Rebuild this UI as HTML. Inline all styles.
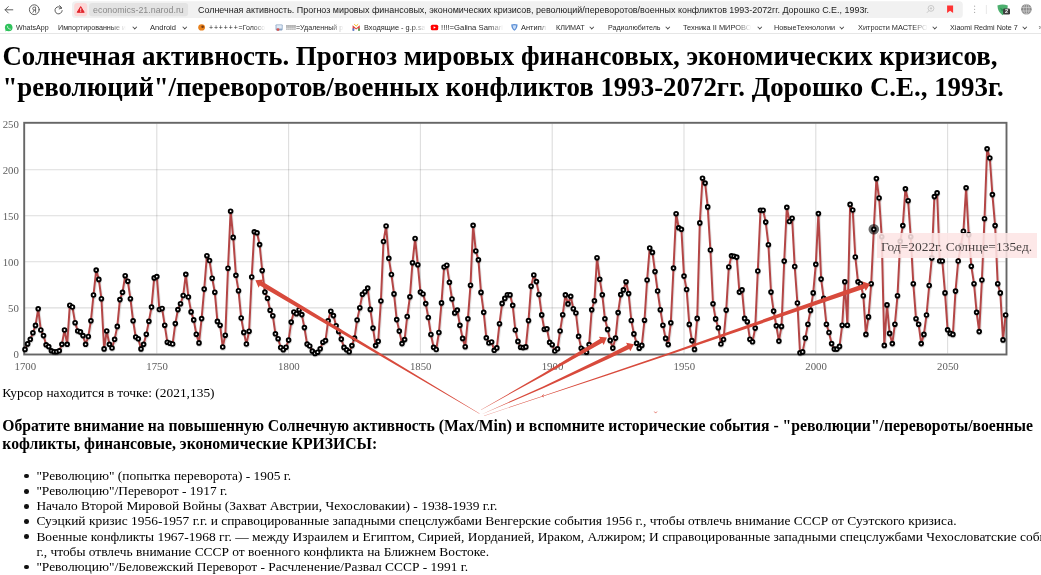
<!DOCTYPE html>
<html lang="ru">
<head>
<meta charset="utf-8">
<title>Солнечная активность</title>
<style>
html,body{margin:0;padding:0;background:#fff;}
body{width:1041px;height:575px;overflow:hidden;position:relative;font-family:"Liberation Serif",serif;color:#000;font-size:13.43px;line-height:15.17px;}
#chrome{position:absolute;left:0;top:0;width:1041px;height:34px;background:#fff;font-family:"Liberation Sans",sans-serif;overflow:hidden;}
#nav{position:absolute;left:0;top:0;}
#dom{position:absolute;left:93.0px;top:3.7px;height:13.4px;color:#8a8a8a;font-size:9.0px;line-height:13.4px;white-space:nowrap;transform-origin:0 50%;transform:scaleX(0.9863);}
#ttl{position:absolute;left:198.3px;top:3.7px;height:13.4px;color:#1a1a1a;font-size:8.9px;line-height:13.4px;white-space:nowrap;transform-origin:0 50%;transform:scaleX(1.0065);}
#bm{position:absolute;left:0;top:21px;width:1041px;height:13px;font-size:7.3px;line-height:13px;color:#2a2a2a;white-space:nowrap;}
#bm span{position:absolute;top:0;transform-origin:0 50%;}
#bm span.fade{-webkit-mask-image:linear-gradient(90deg,#000 0,#000 78%,transparent 100%);mask-image:linear-gradient(90deg,#000 0,#000 78%,transparent 100%);}
#bm b{font-weight:normal;letter-spacing:0.9px;}
#bm i{position:absolute;top:4.4px;width:2.6px;height:2.6px;border-right:0.9px solid #444;border-bottom:0.9px solid #444;transform:rotate(45deg) scale(0.85);}
#sep{position:absolute;left:0;top:33.2px;width:1041px;height:0.8px;background:#e6e6e6;}
h1{position:absolute;left:2.4px;top:41.2px;margin:0;width:1038px;font-size:26.88px;line-height:30.8px;font-weight:bold;white-space:nowrap;}
#chart{position:absolute;left:0;top:100px;}
#tip{position:absolute;left:877.3px;top:233px;box-sizing:content-box;background:rgba(253,229,229,0.88);font-size:13.44px;line-height:15.17px;white-space:nowrap;color:rgba(0,0,0,0.74);padding:5.9px 5.2px 3.6px 3.6px;}
#arrows{position:absolute;left:0;top:0;pointer-events:none;}
#cur{position:absolute;left:2.3px;top:385.4px;white-space:nowrap;}
h3{position:absolute;left:2.3px;top:417.35px;margin:0;font-size:15.70px;line-height:17.3px;font-weight:bold;white-space:nowrap;}
ul{position:absolute;left:2.8px;top:467.9px;margin:0;padding:0 0 0 33.6px;list-style:none;white-space:nowrap;}
li{position:relative;}
li::before{content:"";position:absolute;left:-12.5px;top:5.8px;width:4.7px;height:4.7px;border-radius:50%;background:#111;}
</style>
</head>
<body>
<div id="chrome">
 <svg id="nav" width="1041" height="34" viewBox="0 0 1041 34">
  <rect x="72" y="1.2" width="890.8" height="16.9" rx="3.5" fill="#f1f1f1"/>
  <rect x="74.2" y="2.9" width="13" height="13.4" rx="3" fill="#fcd7d7"/>
  <rect x="89.1" y="2.9" width="99" height="13.4" rx="3" fill="#e3e3e3"/>
  <path d="M80.7 6.6 L84.2 12.3 H77.2 Z" fill="#e1242b" stroke="#e1242b" stroke-width="1.0" stroke-linejoin="round"/>
  <path d="M80.7 8.3v2.3M80.7 11.3v0.8" stroke="#fff" stroke-width="0.9" fill="none"/>
  <g fill="none" stroke="#555" stroke-width="0.95" stroke-linecap="round" stroke-linejoin="round">
   <path d="M12.8 9.8H5.2M8.3 6.6L5.1 9.8L8.3 13"/>
   <circle cx="34.3" cy="9.7" r="4.9"/>
   <path d="M35.6 12.3V7.1H34.2a1.5 1.5 0 0 0 0 3H35.6M34.2 10.1L32.9 12.3" stroke-width="0.85"/>
   <path d="M61.6 8.3A3.6 3.6 0 1 0 62.2 10.6"/>
   <path d="M59.6 5.6L61.8 7.9L59.2 8.9"/>
  </g>
  <g fill="none" stroke="#c4c4c4" stroke-width="0.9">
   <circle cx="931" cy="8.4" r="2.9"/>
   <path d="M929 10.6L926.9 12.8M931 7.2v2.4M929.8 8.4h2.4"/>
  </g>
  <path d="M947.1 5.4h6v7.7l-3-2.4l-3 2.4z" fill="#ff3333"/>
  <g fill="#aaa"><circle cx="974.6" cy="6.2" r="0.6"/><circle cx="974.6" cy="9.3" r="0.6"/><circle cx="974.6" cy="12.4" r="0.6"/></g>
  <path d="M986.4 5V14" stroke="#e2e2e2" stroke-width="0.8"/>
  <path d="M997.4 5.6Q1002.6 3.2 1007.8 5.6Q1007.6 12.4 1002.6 15.2Q997.8 12.4 997.4 5.6Z" fill="#4caf6e"/>
  <path d="M1000 7.8l2 4l1.8-2.2z" fill="#2f8f55"/>
  <rect x="1003.1" y="8.4" width="6.9" height="6" rx="1.2" fill="#3c3c3c"/>
  <text x="1006.5" y="13.4" font-family="'Liberation Sans',sans-serif" font-size="5.6" font-weight="bold" fill="#fff" text-anchor="middle">2</text>
  <circle cx="1026.4" cy="9.2" r="5.3" fill="#8a8a8a"/>
  <g fill="none" stroke="#e6e6e6" stroke-width="0.55">
   <path d="M1021.3 7.4h10.2M1021.3 11h10.2M1026.4 4v10.4"/>
   <ellipse cx="1026.4" cy="9.2" rx="2.7" ry="5.2"/>
  </g>
  <!-- bookmark favicons -->
  <circle cx="8.7" cy="27.5" r="3.8" fill="#2fc25b"/>
  <path d="M5.2 31.4l0.8-2.4l1.6 1.2z" fill="#2fc25b"/>
  <path d="M7.3 25.7q-0.5 1.5 1 2.9q1.4 1.3 2.6 0.8l-0.7-0.9l-0.8 0.3q-1.3-0.8-1.6-2l0.5-0.5z" fill="#fff"/>
  <ellipse cx="201.6" cy="27.4" rx="3.4" ry="3.1" fill="#e8821e"/>
  <circle cx="202.6" cy="26.8" r="1.3" fill="#7a3b10"/>
  <rect x="275.6" y="24.4" width="7" height="6" rx="0.8" fill="#8aa4c4"/>
  <rect x="276.4" y="25.2" width="5.4" height="3.4" fill="#dfeaf6"/>
  <circle cx="278" cy="29.6" r="1.4" fill="#d9534f"/>
  <path d="M352.6 25.2l3.6 3l3.6-3v5.4h-1.6v-2.6l-2 1.6l-2-1.6v2.6h-1.6z" fill="#e0463c"/>
  <rect x="352.6" y="28.4" width="1.6" height="2.4" fill="#3f7fe0"/>
  <rect x="358.2" y="28.4" width="1.6" height="2.4" fill="#3aa757"/>
  <path d="M354.2 24.2l2 1.8l2-1.8" fill="none" stroke="#f4b400" stroke-width="0.9"/>
  <rect x="430.8" y="24.8" width="7.4" height="5.4" rx="1.5" fill="#f00"/>
  <path d="M433.6 26.2v2.6l2.2-1.3z" fill="#fff"/>
  <path d="M511.2 24.6q3.2-1.4 6.4 0q-0.2 4.4-3.2 6.2q-3-1.8-3.2-6.2z" fill="#5b8fd6"/>
  <path d="M512.6 25.6q1.8-0.8 3.6 0q-0.2 2.8-1.8 4q-1.6-1.2-1.8-4z" fill="#c9dcf5"/>
 </svg>
 <div id="dom">economics-21.narod.ru</div>
 <div id="ttl">Солнечная активность. Прогноз мировых финансовых, экономических кризисов, революций/переворотов/военных конфликтов 1993-2072гг. Дорошко С.Е., 1993г.</div>
 <div id="bm">
<span style="left:15.9px;transform:scaleX(0.9682)">WhatsApp</span>
<span class="fade" style="left:58.0px;transform:scaleX(0.9851)">Импортированные и</span>
<i style="left:133.1px"></i>
<span style="left:149.5px;transform:scaleX(1.0335)">Android</span>
<i style="left:182.6px"></i>
<span class="fade" style="left:208.8px;transform:scaleX(0.9561)"><b>++++++</b>=Голосо</span>
<span class="fade" style="left:285.8px;transform:scaleX(0.9767)">!!!!!=Удаленный р</span>
<span class="fade" style="left:363.8px;transform:scaleX(1.0120)">Входящие - g.p.sa</span>
<span class="fade" style="left:440.5px;transform:scaleX(1.0579)">!!!!=Galina Samari</span>
<span class="fade" style="left:520.5px;transform:scaleX(1.0191)">Антипл</span>
<span style="left:555.8px;transform:scaleX(0.9854)">КЛИМАТ</span>
<i style="left:590.1px"></i>
<span style="left:607.5px;transform:scaleX(0.9714)">Радиолюбитель</span>
<i style="left:665.6px"></i>
<span class="fade" style="left:683.0px;transform:scaleX(1.0188)">Техника II МИРОВО</span>
<i style="left:757.6px"></i>
<span style="left:773.8px;transform:scaleX(0.9992)">НовыеТехнологии</span>
<i style="left:839.9px"></i>
<span class="fade" style="left:858.3px;transform:scaleX(1.0099)">Хитрости МАСТЕРО</span>
<i style="left:932.8px"></i>
<span style="left:950.1px;transform:scaleX(0.9833)">Xiaomi Redmi Note 7</span>
<i style="left:1022.7px"></i>
<span style="left:1038.5px;color:#666">»</span>
</div>
 <div id="sep"></div>
</div>
<h1>Солнечная активность. Прогноз мировых финансовых, экономических кризисов,<br>"революций"/переворотов/военных конфликтов 1993-2072гг. Дорошко С.Е., 1993г.</h1>
<svg id="chart" width="1041" height="280" viewBox="0 100 1041 280">
<g stroke="#545454" stroke-opacity="0.2" stroke-width="1.1" fill="none">
<path d="M156.8 123.6V353.6"/>
<path d="M288.6 123.6V353.6"/>
<path d="M420.4 123.6V353.6"/>
<path d="M552.2 123.6V353.6"/>
<path d="M684.0 123.6V353.6"/>
<path d="M815.8 123.6V353.6"/>
<path d="M947.6 123.6V353.6"/>
<path d="M25.0 307.9H1005.6"/>
<path d="M25.0 261.8H1005.6"/>
<path d="M25.0 215.8H1005.6"/>
<path d="M25.0 169.7H1005.6"/>
</g>
<rect x="24.2" y="122.8" width="982.3" height="231.7" fill="none" stroke="#666" stroke-width="1.9"/>
<g fill="none" stroke-linejoin="round">
<polyline points="25.0,349.4 27.6,343.9 30.3,339.3 32.9,332.8 35.5,325.4 38.2,308.8 40.8,330.0 43.5,335.6 46.1,344.8 48.7,346.6 51.4,350.8 54.0,351.7 56.6,351.7 59.3,350.8 61.9,344.3 64.5,330.0 67.2,344.3 69.8,305.2 72.4,307.0 75.1,322.7 77.7,331.0 80.4,331.9 83.0,335.6 85.6,344.3 88.3,336.5 90.9,320.8 93.5,295.0 96.2,270.1 98.8,279.4 101.4,298.7 104.1,348.9 106.7,331.0 109.4,344.3 112.0,348.0 114.6,339.3 117.3,326.4 119.9,299.6 122.5,292.3 125.2,275.7 127.8,281.2 130.4,298.7 133.1,320.8 135.7,337.0 138.3,338.8 141.0,348.9 143.6,344.3 146.3,334.2 148.9,321.3 151.5,307.0 154.2,277.9 156.8,276.6 159.4,309.5 162.1,308.5 164.7,325.2 167.3,342.2 170.0,343.3 172.6,344.0 175.3,323.6 177.9,309.6 180.5,303.7 183.2,295.5 185.8,274.3 188.4,297.0 191.1,311.9 193.7,319.9 196.3,334.2 199.0,342.9 201.6,318.6 204.2,289.1 206.9,255.7 209.5,260.5 212.2,278.2 214.8,292.2 217.4,321.4 220.1,325.2 222.7,347.0 225.3,335.2 228.0,268.2 230.6,211.2 233.2,237.4 235.9,275.3 238.5,290.7 241.2,318.0 243.8,332.4 246.4,344.0 249.1,331.2 251.7,277.0 254.3,231.8 257.0,232.8 259.6,244.6 262.2,270.6 264.9,292.1 267.5,298.2 270.1,310.2 272.8,315.7 275.4,333.8 278.1,338.7 280.7,347.5 283.3,349.7 286.0,347.2 288.6,340.1 291.2,322.1 293.9,312.0 296.5,313.7 299.1,309.7 301.8,314.6 304.4,327.6 307.1,344.1 309.7,346.0 312.3,351.1 315.0,353.4 317.6,352.2 320.2,348.8 322.9,342.2 325.5,340.6 328.1,320.8 330.8,311.2 333.4,315.6 336.1,325.7 338.7,331.4 341.3,339.1 344.0,347.4 346.6,349.8 349.2,351.8 351.9,345.6 354.5,338.1 357.1,320.0 359.8,307.7 362.4,294.3 365.0,291.7 367.7,288.1 370.3,309.4 373.0,328.1 375.6,345.6 378.2,341.3 380.9,301.0 383.5,241.5 386.1,226.0 388.8,258.3 391.4,274.5 394.0,293.9 396.7,319.6 399.3,331.1 402.0,343.6 404.6,339.6 407.2,316.5 409.9,296.8 412.5,262.7 415.1,238.5 417.8,264.7 420.4,292.1 423.0,294.0 425.7,303.6 428.3,317.5 430.9,334.5 433.6,347.3 436.2,349.5 438.9,332.5 441.5,302.9 444.1,267.0 446.8,265.2 449.4,282.3 452.0,299.0 454.7,312.9 457.3,310.1 459.9,325.3 462.6,338.4 465.2,346.7 467.9,318.8 470.5,285.2 473.1,225.3 475.8,251.0 478.4,259.8 481.0,292.4 483.7,312.3 486.3,337.8 488.9,343.0 491.6,342.0 494.2,350.3 496.8,347.9 499.5,323.7 502.1,303.4 504.8,298.4 507.4,294.7 510.0,294.9 512.7,305.3 515.3,330.0 517.9,341.4 520.6,347.2 523.2,347.6 525.8,346.9 528.5,320.6 531.1,286.2 533.8,275.0 536.4,281.6 539.0,294.5 541.7,314.9 544.3,329.3 546.9,328.8 549.6,342.3 552.2,344.7 554.8,351.0 557.5,348.8 560.1,331.0 562.7,314.7 565.4,294.9 568.0,303.9 570.7,296.3 573.3,308.7 575.9,313.0 578.6,336.3 581.2,348.2 583.8,350.1 586.5,352.2 589.1,344.6 591.7,309.8 594.4,300.8 597.0,257.7 599.7,279.2 602.3,294.8 604.9,318.8 607.6,329.4 610.2,340.4 612.8,348.1 615.5,338.1 618.1,312.6 620.7,294.6 623.4,289.9 626.0,281.7 628.6,293.6 631.3,320.5 633.9,333.9 636.6,343.2 639.2,348.2 641.8,345.4 644.5,320.2 647.1,280.0 649.7,248.0 652.4,252.4 655.0,271.6 657.6,291.0 660.3,309.7 662.9,325.2 665.6,338.4 668.2,344.6 670.8,322.8 673.5,268.1 676.1,213.7 678.7,227.8 681.4,229.3 684.0,276.1 686.6,289.5 689.3,324.4 691.9,340.6 694.5,349.4 697.2,318.4 699.8,222.9 702.5,178.2 705.1,183.1 707.7,206.9 710.4,250.0 713.0,303.8 715.6,318.9 718.3,327.7 720.9,344.0 723.5,339.5 726.2,310.1 728.8,267.0 731.5,255.8 734.1,256.2 736.7,257.1 739.4,292.1 742.0,289.9 744.6,318.4 747.3,321.7 749.9,339.2 752.5,341.8 755.2,328.1 757.8,271.0 760.5,210.2 763.1,210.2 765.7,222.1 768.4,244.7 771.0,292.1 773.6,311.1 776.3,325.8 778.9,341.1 781.5,326.4 784.2,261.1 786.8,207.3 789.4,221.5 792.1,218.2 794.7,266.5 797.4,303.0 800.0,352.8 802.6,351.9 805.3,338.1 807.9,324.2 810.5,310.4 813.2,292.9 815.8,264.3 818.4,213.6 821.1,279.1 823.7,298.4 826.4,324.2 829.0,332.5 831.6,343.6 834.3,349.1 836.9,349.1 839.5,346.4 842.2,325.2 844.8,281.8 847.4,325.2 850.1,204.4 852.7,210.0 855.3,257.0 858.0,281.8 860.6,283.7 863.3,295.7 865.9,334.4 868.5,316.9 871.2,283.7 873.8,229.3 876.4,178.6 879.1,198.0 881.7,236.7 884.3,345.4 887.0,304.9 889.6,333.4 892.3,343.6 894.9,324.2 897.5,295.7 900.2,241.3 902.8,225.6 905.4,188.8 908.1,200.7 910.7,236.7 913.3,283.7 916.0,318.7 918.6,324.2 921.2,343.6 923.9,334.4 926.5,315.0 929.2,285.5 931.8,257.9 934.4,196.6 937.1,192.9 939.7,261.0 942.3,261.0 945.0,292.9 947.6,329.8 950.2,333.4 952.9,334.4 955.5,291.1 958.2,261.0 960.8,245.9 963.4,231.2 966.1,187.8 968.7,234.8 971.3,266.2 974.0,283.7 976.6,312.3 979.2,331.6 981.9,280.0 984.5,218.7 987.1,148.8 989.8,158.0 992.4,194.6 995.1,225.6 997.7,283.7 1000.3,292.9 1003.0,339.9 1005.6,315.0" stroke="#000" stroke-opacity="0.1" stroke-width="2.5" transform="translate(0.8,1.2)"/>
<polyline points="25.0,349.4 27.6,343.9 30.3,339.3 32.9,332.8 35.5,325.4 38.2,308.8 40.8,330.0 43.5,335.6 46.1,344.8 48.7,346.6 51.4,350.8 54.0,351.7 56.6,351.7 59.3,350.8 61.9,344.3 64.5,330.0 67.2,344.3 69.8,305.2 72.4,307.0 75.1,322.7 77.7,331.0 80.4,331.9 83.0,335.6 85.6,344.3 88.3,336.5 90.9,320.8 93.5,295.0 96.2,270.1 98.8,279.4 101.4,298.7 104.1,348.9 106.7,331.0 109.4,344.3 112.0,348.0 114.6,339.3 117.3,326.4 119.9,299.6 122.5,292.3 125.2,275.7 127.8,281.2 130.4,298.7 133.1,320.8 135.7,337.0 138.3,338.8 141.0,348.9 143.6,344.3 146.3,334.2 148.9,321.3 151.5,307.0 154.2,277.9 156.8,276.6 159.4,309.5 162.1,308.5 164.7,325.2 167.3,342.2 170.0,343.3 172.6,344.0 175.3,323.6 177.9,309.6 180.5,303.7 183.2,295.5 185.8,274.3 188.4,297.0 191.1,311.9 193.7,319.9 196.3,334.2 199.0,342.9 201.6,318.6 204.2,289.1 206.9,255.7 209.5,260.5 212.2,278.2 214.8,292.2 217.4,321.4 220.1,325.2 222.7,347.0 225.3,335.2 228.0,268.2 230.6,211.2 233.2,237.4 235.9,275.3 238.5,290.7 241.2,318.0 243.8,332.4 246.4,344.0 249.1,331.2 251.7,277.0 254.3,231.8 257.0,232.8 259.6,244.6 262.2,270.6 264.9,292.1 267.5,298.2 270.1,310.2 272.8,315.7 275.4,333.8 278.1,338.7 280.7,347.5 283.3,349.7 286.0,347.2 288.6,340.1 291.2,322.1 293.9,312.0 296.5,313.7 299.1,309.7 301.8,314.6 304.4,327.6 307.1,344.1 309.7,346.0 312.3,351.1 315.0,353.4 317.6,352.2 320.2,348.8 322.9,342.2 325.5,340.6 328.1,320.8 330.8,311.2 333.4,315.6 336.1,325.7 338.7,331.4 341.3,339.1 344.0,347.4 346.6,349.8 349.2,351.8 351.9,345.6 354.5,338.1 357.1,320.0 359.8,307.7 362.4,294.3 365.0,291.7 367.7,288.1 370.3,309.4 373.0,328.1 375.6,345.6 378.2,341.3 380.9,301.0 383.5,241.5 386.1,226.0 388.8,258.3 391.4,274.5 394.0,293.9 396.7,319.6 399.3,331.1 402.0,343.6 404.6,339.6 407.2,316.5 409.9,296.8 412.5,262.7 415.1,238.5 417.8,264.7 420.4,292.1 423.0,294.0 425.7,303.6 428.3,317.5 430.9,334.5 433.6,347.3 436.2,349.5 438.9,332.5 441.5,302.9 444.1,267.0 446.8,265.2 449.4,282.3 452.0,299.0 454.7,312.9 457.3,310.1 459.9,325.3 462.6,338.4 465.2,346.7 467.9,318.8 470.5,285.2 473.1,225.3 475.8,251.0 478.4,259.8 481.0,292.4 483.7,312.3 486.3,337.8 488.9,343.0 491.6,342.0 494.2,350.3 496.8,347.9 499.5,323.7 502.1,303.4 504.8,298.4 507.4,294.7 510.0,294.9 512.7,305.3 515.3,330.0 517.9,341.4 520.6,347.2 523.2,347.6 525.8,346.9 528.5,320.6 531.1,286.2 533.8,275.0 536.4,281.6 539.0,294.5 541.7,314.9 544.3,329.3 546.9,328.8 549.6,342.3 552.2,344.7 554.8,351.0 557.5,348.8 560.1,331.0 562.7,314.7 565.4,294.9 568.0,303.9 570.7,296.3 573.3,308.7 575.9,313.0 578.6,336.3 581.2,348.2 583.8,350.1 586.5,352.2 589.1,344.6 591.7,309.8 594.4,300.8 597.0,257.7 599.7,279.2 602.3,294.8 604.9,318.8 607.6,329.4 610.2,340.4 612.8,348.1 615.5,338.1 618.1,312.6 620.7,294.6 623.4,289.9 626.0,281.7 628.6,293.6 631.3,320.5 633.9,333.9 636.6,343.2 639.2,348.2 641.8,345.4 644.5,320.2 647.1,280.0 649.7,248.0 652.4,252.4 655.0,271.6 657.6,291.0 660.3,309.7 662.9,325.2 665.6,338.4 668.2,344.6 670.8,322.8 673.5,268.1 676.1,213.7 678.7,227.8 681.4,229.3 684.0,276.1 686.6,289.5 689.3,324.4 691.9,340.6 694.5,349.4 697.2,318.4 699.8,222.9 702.5,178.2 705.1,183.1 707.7,206.9 710.4,250.0 713.0,303.8 715.6,318.9 718.3,327.7 720.9,344.0 723.5,339.5 726.2,310.1 728.8,267.0 731.5,255.8 734.1,256.2 736.7,257.1 739.4,292.1 742.0,289.9 744.6,318.4 747.3,321.7 749.9,339.2 752.5,341.8 755.2,328.1 757.8,271.0 760.5,210.2 763.1,210.2 765.7,222.1 768.4,244.7 771.0,292.1 773.6,311.1 776.3,325.8 778.9,341.1 781.5,326.4 784.2,261.1 786.8,207.3 789.4,221.5 792.1,218.2 794.7,266.5 797.4,303.0 800.0,352.8 802.6,351.9 805.3,338.1 807.9,324.2 810.5,310.4 813.2,292.9 815.8,264.3 818.4,213.6 821.1,279.1 823.7,298.4 826.4,324.2 829.0,332.5 831.6,343.6 834.3,349.1 836.9,349.1 839.5,346.4 842.2,325.2 844.8,281.8 847.4,325.2 850.1,204.4 852.7,210.0 855.3,257.0 858.0,281.8 860.6,283.7 863.3,295.7 865.9,334.4 868.5,316.9 871.2,283.7 873.8,229.3 876.4,178.6 879.1,198.0 881.7,236.7 884.3,345.4 887.0,304.9 889.6,333.4 892.3,343.6 894.9,324.2 897.5,295.7 900.2,241.3 902.8,225.6 905.4,188.8 908.1,200.7 910.7,236.7 913.3,283.7 916.0,318.7 918.6,324.2 921.2,343.6 923.9,334.4 926.5,315.0 929.2,285.5 931.8,257.9 934.4,196.6 937.1,192.9 939.7,261.0 942.3,261.0 945.0,292.9 947.6,329.8 950.2,333.4 952.9,334.4 955.5,291.1 958.2,261.0 960.8,245.9 963.4,231.2 966.1,187.8 968.7,234.8 971.3,266.2 974.0,283.7 976.6,312.3 979.2,331.6 981.9,280.0 984.5,218.7 987.1,148.8 989.8,158.0 992.4,194.6 995.1,225.6 997.7,283.7 1000.3,292.9 1003.0,339.9 1005.6,315.0" stroke="#b44646" stroke-width="2.0"/>
</g>
<g fill="none" stroke="#000" stroke-opacity="0.13" stroke-width="2.0">
<circle cx="25.3" cy="350.4" r="2.0"/>
<circle cx="27.9" cy="344.9" r="2.0"/>
<circle cx="30.6" cy="340.3" r="2.0"/>
<circle cx="33.2" cy="333.8" r="2.0"/>
<circle cx="35.8" cy="326.4" r="2.0"/>
<circle cx="38.5" cy="309.8" r="2.0"/>
<circle cx="41.1" cy="331.0" r="2.0"/>
<circle cx="43.8" cy="336.6" r="2.0"/>
<circle cx="46.4" cy="345.8" r="2.0"/>
<circle cx="49.0" cy="347.6" r="2.0"/>
<circle cx="51.7" cy="351.8" r="2.0"/>
<circle cx="54.3" cy="352.7" r="2.0"/>
<circle cx="56.9" cy="352.7" r="2.0"/>
<circle cx="59.6" cy="351.8" r="2.0"/>
<circle cx="62.2" cy="345.3" r="2.0"/>
<circle cx="64.8" cy="331.0" r="2.0"/>
<circle cx="67.5" cy="345.3" r="2.0"/>
<circle cx="70.1" cy="306.2" r="2.0"/>
<circle cx="72.7" cy="308.0" r="2.0"/>
<circle cx="75.4" cy="323.7" r="2.0"/>
<circle cx="78.0" cy="332.0" r="2.0"/>
<circle cx="80.7" cy="332.9" r="2.0"/>
<circle cx="83.3" cy="336.6" r="2.0"/>
<circle cx="85.9" cy="345.3" r="2.0"/>
<circle cx="88.6" cy="337.5" r="2.0"/>
<circle cx="91.2" cy="321.8" r="2.0"/>
<circle cx="93.8" cy="296.0" r="2.0"/>
<circle cx="96.5" cy="271.1" r="2.0"/>
<circle cx="99.1" cy="280.4" r="2.0"/>
<circle cx="101.7" cy="299.7" r="2.0"/>
<circle cx="104.4" cy="349.9" r="2.0"/>
<circle cx="107.0" cy="332.0" r="2.0"/>
<circle cx="109.7" cy="345.3" r="2.0"/>
<circle cx="112.3" cy="349.0" r="2.0"/>
<circle cx="114.9" cy="340.3" r="2.0"/>
<circle cx="117.6" cy="327.4" r="2.0"/>
<circle cx="120.2" cy="300.6" r="2.0"/>
<circle cx="122.8" cy="293.3" r="2.0"/>
<circle cx="125.5" cy="276.7" r="2.0"/>
<circle cx="128.1" cy="282.2" r="2.0"/>
<circle cx="130.7" cy="299.7" r="2.0"/>
<circle cx="133.4" cy="321.8" r="2.0"/>
<circle cx="136.0" cy="338.0" r="2.0"/>
<circle cx="138.6" cy="339.8" r="2.0"/>
<circle cx="141.3" cy="349.9" r="2.0"/>
<circle cx="143.9" cy="345.3" r="2.0"/>
<circle cx="146.6" cy="335.2" r="2.0"/>
<circle cx="149.2" cy="322.3" r="2.0"/>
<circle cx="151.8" cy="308.0" r="2.0"/>
<circle cx="154.5" cy="278.9" r="2.0"/>
<circle cx="157.1" cy="277.6" r="2.0"/>
<circle cx="159.7" cy="310.5" r="2.0"/>
<circle cx="162.4" cy="309.5" r="2.0"/>
<circle cx="165.0" cy="326.2" r="2.0"/>
<circle cx="167.6" cy="343.2" r="2.0"/>
<circle cx="170.3" cy="344.3" r="2.0"/>
<circle cx="172.9" cy="345.0" r="2.0"/>
<circle cx="175.6" cy="324.6" r="2.0"/>
<circle cx="178.2" cy="310.6" r="2.0"/>
<circle cx="180.8" cy="304.7" r="2.0"/>
<circle cx="183.5" cy="296.5" r="2.0"/>
<circle cx="186.1" cy="275.3" r="2.0"/>
<circle cx="188.7" cy="298.0" r="2.0"/>
<circle cx="191.4" cy="312.9" r="2.0"/>
<circle cx="194.0" cy="320.9" r="2.0"/>
<circle cx="196.6" cy="335.2" r="2.0"/>
<circle cx="199.3" cy="343.9" r="2.0"/>
<circle cx="201.9" cy="319.6" r="2.0"/>
<circle cx="204.5" cy="290.1" r="2.0"/>
<circle cx="207.2" cy="256.7" r="2.0"/>
<circle cx="209.8" cy="261.5" r="2.0"/>
<circle cx="212.5" cy="279.2" r="2.0"/>
<circle cx="215.1" cy="293.2" r="2.0"/>
<circle cx="217.7" cy="322.4" r="2.0"/>
<circle cx="220.4" cy="326.2" r="2.0"/>
<circle cx="223.0" cy="348.0" r="2.0"/>
<circle cx="225.6" cy="336.2" r="2.0"/>
<circle cx="228.3" cy="269.2" r="2.0"/>
<circle cx="230.9" cy="212.2" r="2.0"/>
<circle cx="233.5" cy="238.4" r="2.0"/>
<circle cx="236.2" cy="276.3" r="2.0"/>
<circle cx="238.8" cy="291.7" r="2.0"/>
<circle cx="241.5" cy="319.0" r="2.0"/>
<circle cx="244.1" cy="333.4" r="2.0"/>
<circle cx="246.7" cy="345.0" r="2.0"/>
<circle cx="249.4" cy="332.2" r="2.0"/>
<circle cx="252.0" cy="278.0" r="2.0"/>
<circle cx="254.6" cy="232.8" r="2.0"/>
<circle cx="257.3" cy="233.8" r="2.0"/>
<circle cx="259.9" cy="245.6" r="2.0"/>
<circle cx="262.5" cy="271.6" r="2.0"/>
<circle cx="265.2" cy="293.1" r="2.0"/>
<circle cx="267.8" cy="299.2" r="2.0"/>
<circle cx="270.4" cy="311.2" r="2.0"/>
<circle cx="273.1" cy="316.7" r="2.0"/>
<circle cx="275.7" cy="334.8" r="2.0"/>
<circle cx="278.4" cy="339.7" r="2.0"/>
<circle cx="281.0" cy="348.5" r="2.0"/>
<circle cx="283.6" cy="350.7" r="2.0"/>
<circle cx="286.3" cy="348.2" r="2.0"/>
<circle cx="288.9" cy="341.1" r="2.0"/>
<circle cx="291.5" cy="323.1" r="2.0"/>
<circle cx="294.2" cy="313.0" r="2.0"/>
<circle cx="296.8" cy="314.7" r="2.0"/>
<circle cx="299.4" cy="310.7" r="2.0"/>
<circle cx="302.1" cy="315.6" r="2.0"/>
<circle cx="304.7" cy="328.6" r="2.0"/>
<circle cx="307.4" cy="345.1" r="2.0"/>
<circle cx="310.0" cy="347.0" r="2.0"/>
<circle cx="312.6" cy="352.1" r="2.0"/>
<circle cx="315.3" cy="354.4" r="2.0"/>
<circle cx="317.9" cy="353.2" r="2.0"/>
<circle cx="320.5" cy="349.8" r="2.0"/>
<circle cx="323.2" cy="343.2" r="2.0"/>
<circle cx="325.8" cy="341.6" r="2.0"/>
<circle cx="328.4" cy="321.8" r="2.0"/>
<circle cx="331.1" cy="312.2" r="2.0"/>
<circle cx="333.7" cy="316.6" r="2.0"/>
<circle cx="336.4" cy="326.7" r="2.0"/>
<circle cx="339.0" cy="332.4" r="2.0"/>
<circle cx="341.6" cy="340.1" r="2.0"/>
<circle cx="344.3" cy="348.4" r="2.0"/>
<circle cx="346.9" cy="350.8" r="2.0"/>
<circle cx="349.5" cy="352.8" r="2.0"/>
<circle cx="352.2" cy="346.6" r="2.0"/>
<circle cx="354.8" cy="339.1" r="2.0"/>
<circle cx="357.4" cy="321.0" r="2.0"/>
<circle cx="360.1" cy="308.7" r="2.0"/>
<circle cx="362.7" cy="295.3" r="2.0"/>
<circle cx="365.3" cy="292.7" r="2.0"/>
<circle cx="368.0" cy="289.1" r="2.0"/>
<circle cx="370.6" cy="310.4" r="2.0"/>
<circle cx="373.3" cy="329.1" r="2.0"/>
<circle cx="375.9" cy="346.6" r="2.0"/>
<circle cx="378.5" cy="342.3" r="2.0"/>
<circle cx="381.2" cy="302.0" r="2.0"/>
<circle cx="383.8" cy="242.5" r="2.0"/>
<circle cx="386.4" cy="227.0" r="2.0"/>
<circle cx="389.1" cy="259.3" r="2.0"/>
<circle cx="391.7" cy="275.5" r="2.0"/>
<circle cx="394.3" cy="294.9" r="2.0"/>
<circle cx="397.0" cy="320.6" r="2.0"/>
<circle cx="399.6" cy="332.1" r="2.0"/>
<circle cx="402.3" cy="344.6" r="2.0"/>
<circle cx="404.9" cy="340.6" r="2.0"/>
<circle cx="407.5" cy="317.5" r="2.0"/>
<circle cx="410.2" cy="297.8" r="2.0"/>
<circle cx="412.8" cy="263.7" r="2.0"/>
<circle cx="415.4" cy="239.5" r="2.0"/>
<circle cx="418.1" cy="265.7" r="2.0"/>
<circle cx="420.7" cy="293.1" r="2.0"/>
<circle cx="423.3" cy="295.0" r="2.0"/>
<circle cx="426.0" cy="304.6" r="2.0"/>
<circle cx="428.6" cy="318.5" r="2.0"/>
<circle cx="431.2" cy="335.5" r="2.0"/>
<circle cx="433.9" cy="348.3" r="2.0"/>
<circle cx="436.5" cy="350.5" r="2.0"/>
<circle cx="439.2" cy="333.5" r="2.0"/>
<circle cx="441.8" cy="303.9" r="2.0"/>
<circle cx="444.4" cy="268.0" r="2.0"/>
<circle cx="447.1" cy="266.2" r="2.0"/>
<circle cx="449.7" cy="283.3" r="2.0"/>
<circle cx="452.3" cy="300.0" r="2.0"/>
<circle cx="455.0" cy="313.9" r="2.0"/>
<circle cx="457.6" cy="311.1" r="2.0"/>
<circle cx="460.2" cy="326.3" r="2.0"/>
<circle cx="462.9" cy="339.4" r="2.0"/>
<circle cx="465.5" cy="347.7" r="2.0"/>
<circle cx="468.2" cy="319.8" r="2.0"/>
<circle cx="470.8" cy="286.2" r="2.0"/>
<circle cx="473.4" cy="226.3" r="2.0"/>
<circle cx="476.1" cy="252.0" r="2.0"/>
<circle cx="478.7" cy="260.8" r="2.0"/>
<circle cx="481.3" cy="293.4" r="2.0"/>
<circle cx="484.0" cy="313.3" r="2.0"/>
<circle cx="486.6" cy="338.8" r="2.0"/>
<circle cx="489.2" cy="344.0" r="2.0"/>
<circle cx="491.9" cy="343.0" r="2.0"/>
<circle cx="494.5" cy="351.3" r="2.0"/>
<circle cx="497.1" cy="348.9" r="2.0"/>
<circle cx="499.8" cy="324.7" r="2.0"/>
<circle cx="502.4" cy="304.4" r="2.0"/>
<circle cx="505.1" cy="299.4" r="2.0"/>
<circle cx="507.7" cy="295.7" r="2.0"/>
<circle cx="510.3" cy="295.9" r="2.0"/>
<circle cx="513.0" cy="306.3" r="2.0"/>
<circle cx="515.6" cy="331.0" r="2.0"/>
<circle cx="518.2" cy="342.4" r="2.0"/>
<circle cx="520.9" cy="348.2" r="2.0"/>
<circle cx="523.5" cy="348.6" r="2.0"/>
<circle cx="526.1" cy="347.9" r="2.0"/>
<circle cx="528.8" cy="321.6" r="2.0"/>
<circle cx="531.4" cy="287.2" r="2.0"/>
<circle cx="534.1" cy="276.0" r="2.0"/>
<circle cx="536.7" cy="282.6" r="2.0"/>
<circle cx="539.3" cy="295.5" r="2.0"/>
<circle cx="542.0" cy="315.9" r="2.0"/>
<circle cx="544.6" cy="330.3" r="2.0"/>
<circle cx="547.2" cy="329.8" r="2.0"/>
<circle cx="549.9" cy="343.3" r="2.0"/>
<circle cx="552.5" cy="345.7" r="2.0"/>
<circle cx="555.1" cy="352.0" r="2.0"/>
<circle cx="557.8" cy="349.8" r="2.0"/>
<circle cx="560.4" cy="332.0" r="2.0"/>
<circle cx="563.0" cy="315.7" r="2.0"/>
<circle cx="565.7" cy="295.9" r="2.0"/>
<circle cx="568.3" cy="304.9" r="2.0"/>
<circle cx="571.0" cy="297.3" r="2.0"/>
<circle cx="573.6" cy="309.7" r="2.0"/>
<circle cx="576.2" cy="314.0" r="2.0"/>
<circle cx="578.9" cy="337.3" r="2.0"/>
<circle cx="581.5" cy="349.2" r="2.0"/>
<circle cx="584.1" cy="351.1" r="2.0"/>
<circle cx="586.8" cy="353.2" r="2.0"/>
<circle cx="589.4" cy="345.6" r="2.0"/>
<circle cx="592.0" cy="310.8" r="2.0"/>
<circle cx="594.7" cy="301.8" r="2.0"/>
<circle cx="597.3" cy="258.7" r="2.0"/>
<circle cx="600.0" cy="280.2" r="2.0"/>
<circle cx="602.6" cy="295.8" r="2.0"/>
<circle cx="605.2" cy="319.8" r="2.0"/>
<circle cx="607.9" cy="330.4" r="2.0"/>
<circle cx="610.5" cy="341.4" r="2.0"/>
<circle cx="613.1" cy="349.1" r="2.0"/>
<circle cx="615.8" cy="339.1" r="2.0"/>
<circle cx="618.4" cy="313.6" r="2.0"/>
<circle cx="621.0" cy="295.6" r="2.0"/>
<circle cx="623.7" cy="290.9" r="2.0"/>
<circle cx="626.3" cy="282.7" r="2.0"/>
<circle cx="628.9" cy="294.6" r="2.0"/>
<circle cx="631.6" cy="321.5" r="2.0"/>
<circle cx="634.2" cy="334.9" r="2.0"/>
<circle cx="636.9" cy="344.2" r="2.0"/>
<circle cx="639.5" cy="349.2" r="2.0"/>
<circle cx="642.1" cy="346.4" r="2.0"/>
<circle cx="644.8" cy="321.2" r="2.0"/>
<circle cx="647.4" cy="281.0" r="2.0"/>
<circle cx="650.0" cy="249.0" r="2.0"/>
<circle cx="652.7" cy="253.4" r="2.0"/>
<circle cx="655.3" cy="272.6" r="2.0"/>
<circle cx="657.9" cy="292.0" r="2.0"/>
<circle cx="660.6" cy="310.7" r="2.0"/>
<circle cx="663.2" cy="326.2" r="2.0"/>
<circle cx="665.9" cy="339.4" r="2.0"/>
<circle cx="668.5" cy="345.6" r="2.0"/>
<circle cx="671.1" cy="323.8" r="2.0"/>
<circle cx="673.8" cy="269.1" r="2.0"/>
<circle cx="676.4" cy="214.7" r="2.0"/>
<circle cx="679.0" cy="228.8" r="2.0"/>
<circle cx="681.7" cy="230.3" r="2.0"/>
<circle cx="684.3" cy="277.1" r="2.0"/>
<circle cx="686.9" cy="290.5" r="2.0"/>
<circle cx="689.6" cy="325.4" r="2.0"/>
<circle cx="692.2" cy="341.6" r="2.0"/>
<circle cx="694.8" cy="350.4" r="2.0"/>
<circle cx="697.5" cy="319.4" r="2.0"/>
<circle cx="700.1" cy="223.9" r="2.0"/>
<circle cx="702.8" cy="179.2" r="2.0"/>
<circle cx="705.4" cy="184.1" r="2.0"/>
<circle cx="708.0" cy="207.9" r="2.0"/>
<circle cx="710.7" cy="251.0" r="2.0"/>
<circle cx="713.3" cy="304.8" r="2.0"/>
<circle cx="715.9" cy="319.9" r="2.0"/>
<circle cx="718.6" cy="328.7" r="2.0"/>
<circle cx="721.2" cy="345.0" r="2.0"/>
<circle cx="723.8" cy="340.5" r="2.0"/>
<circle cx="726.5" cy="311.1" r="2.0"/>
<circle cx="729.1" cy="268.0" r="2.0"/>
<circle cx="731.8" cy="256.8" r="2.0"/>
<circle cx="734.4" cy="257.2" r="2.0"/>
<circle cx="737.0" cy="258.1" r="2.0"/>
<circle cx="739.7" cy="293.1" r="2.0"/>
<circle cx="742.3" cy="290.9" r="2.0"/>
<circle cx="744.9" cy="319.4" r="2.0"/>
<circle cx="747.6" cy="322.7" r="2.0"/>
<circle cx="750.2" cy="340.2" r="2.0"/>
<circle cx="752.8" cy="342.8" r="2.0"/>
<circle cx="755.5" cy="329.1" r="2.0"/>
<circle cx="758.1" cy="272.0" r="2.0"/>
<circle cx="760.8" cy="211.2" r="2.0"/>
<circle cx="763.4" cy="211.2" r="2.0"/>
<circle cx="766.0" cy="223.1" r="2.0"/>
<circle cx="768.7" cy="245.7" r="2.0"/>
<circle cx="771.3" cy="293.1" r="2.0"/>
<circle cx="773.9" cy="312.1" r="2.0"/>
<circle cx="776.6" cy="326.8" r="2.0"/>
<circle cx="779.2" cy="342.1" r="2.0"/>
<circle cx="781.8" cy="327.4" r="2.0"/>
<circle cx="784.5" cy="262.1" r="2.0"/>
<circle cx="787.1" cy="208.3" r="2.0"/>
<circle cx="789.7" cy="222.5" r="2.0"/>
<circle cx="792.4" cy="219.2" r="2.0"/>
<circle cx="795.0" cy="267.5" r="2.0"/>
<circle cx="797.7" cy="304.0" r="2.0"/>
<circle cx="800.3" cy="353.8" r="2.0"/>
<circle cx="802.9" cy="352.9" r="2.0"/>
<circle cx="805.6" cy="339.1" r="2.0"/>
<circle cx="808.2" cy="325.2" r="2.0"/>
<circle cx="810.8" cy="311.4" r="2.0"/>
<circle cx="813.5" cy="293.9" r="2.0"/>
<circle cx="816.1" cy="265.3" r="2.0"/>
<circle cx="818.7" cy="214.6" r="2.0"/>
<circle cx="821.4" cy="280.1" r="2.0"/>
<circle cx="824.0" cy="299.4" r="2.0"/>
<circle cx="826.7" cy="325.2" r="2.0"/>
<circle cx="829.3" cy="333.5" r="2.0"/>
<circle cx="831.9" cy="344.6" r="2.0"/>
<circle cx="834.6" cy="350.1" r="2.0"/>
<circle cx="837.2" cy="350.1" r="2.0"/>
<circle cx="839.8" cy="347.4" r="2.0"/>
<circle cx="842.5" cy="326.2" r="2.0"/>
<circle cx="845.1" cy="282.8" r="2.0"/>
<circle cx="847.7" cy="326.2" r="2.0"/>
<circle cx="850.4" cy="205.4" r="2.0"/>
<circle cx="853.0" cy="211.0" r="2.0"/>
<circle cx="855.6" cy="258.0" r="2.0"/>
<circle cx="858.3" cy="282.8" r="2.0"/>
<circle cx="860.9" cy="284.7" r="2.0"/>
<circle cx="863.6" cy="296.7" r="2.0"/>
<circle cx="866.2" cy="335.4" r="2.0"/>
<circle cx="868.8" cy="317.9" r="2.0"/>
<circle cx="871.5" cy="284.7" r="2.0"/>
<circle cx="874.1" cy="230.3" r="2.0"/>
<circle cx="876.7" cy="179.6" r="2.0"/>
<circle cx="879.4" cy="199.0" r="2.0"/>
<circle cx="882.0" cy="237.7" r="2.0"/>
<circle cx="884.6" cy="346.4" r="2.0"/>
<circle cx="887.3" cy="305.9" r="2.0"/>
<circle cx="889.9" cy="334.4" r="2.0"/>
<circle cx="892.6" cy="344.6" r="2.0"/>
<circle cx="895.2" cy="325.2" r="2.0"/>
<circle cx="897.8" cy="296.7" r="2.0"/>
<circle cx="900.5" cy="242.3" r="2.0"/>
<circle cx="903.1" cy="226.6" r="2.0"/>
<circle cx="905.7" cy="189.8" r="2.0"/>
<circle cx="908.4" cy="201.7" r="2.0"/>
<circle cx="911.0" cy="237.7" r="2.0"/>
<circle cx="913.6" cy="284.7" r="2.0"/>
<circle cx="916.3" cy="319.7" r="2.0"/>
<circle cx="918.9" cy="325.2" r="2.0"/>
<circle cx="921.5" cy="344.6" r="2.0"/>
<circle cx="924.2" cy="335.4" r="2.0"/>
<circle cx="926.8" cy="316.0" r="2.0"/>
<circle cx="929.5" cy="286.5" r="2.0"/>
<circle cx="932.1" cy="258.9" r="2.0"/>
<circle cx="934.7" cy="197.6" r="2.0"/>
<circle cx="937.4" cy="193.9" r="2.0"/>
<circle cx="940.0" cy="262.0" r="2.0"/>
<circle cx="942.6" cy="262.0" r="2.0"/>
<circle cx="945.3" cy="293.9" r="2.0"/>
<circle cx="947.9" cy="330.8" r="2.0"/>
<circle cx="950.5" cy="334.4" r="2.0"/>
<circle cx="953.2" cy="335.4" r="2.0"/>
<circle cx="955.8" cy="292.1" r="2.0"/>
<circle cx="958.5" cy="262.0" r="2.0"/>
<circle cx="961.1" cy="246.9" r="2.0"/>
<circle cx="963.7" cy="232.2" r="2.0"/>
<circle cx="966.4" cy="188.8" r="2.0"/>
<circle cx="969.0" cy="235.8" r="2.0"/>
<circle cx="971.6" cy="267.2" r="2.0"/>
<circle cx="974.3" cy="284.7" r="2.0"/>
<circle cx="976.9" cy="313.3" r="2.0"/>
<circle cx="979.5" cy="332.6" r="2.0"/>
<circle cx="982.2" cy="281.0" r="2.0"/>
<circle cx="984.8" cy="219.7" r="2.0"/>
<circle cx="987.4" cy="149.8" r="2.0"/>
<circle cx="990.1" cy="159.0" r="2.0"/>
<circle cx="992.7" cy="195.6" r="2.0"/>
<circle cx="995.4" cy="226.6" r="2.0"/>
<circle cx="998.0" cy="284.7" r="2.0"/>
<circle cx="1000.6" cy="293.9" r="2.0"/>
<circle cx="1003.3" cy="340.9" r="2.0"/>
<circle cx="1005.9" cy="316.0" r="2.0"/>
</g>
<g fill="#fff" stroke="#000" stroke-width="1.9">
<circle cx="25.0" cy="349.4" r="1.85"/>
<circle cx="27.6" cy="343.9" r="1.85"/>
<circle cx="30.3" cy="339.3" r="1.85"/>
<circle cx="32.9" cy="332.8" r="1.85"/>
<circle cx="35.5" cy="325.4" r="1.85"/>
<circle cx="38.2" cy="308.8" r="1.85"/>
<circle cx="40.8" cy="330.0" r="1.85"/>
<circle cx="43.5" cy="335.6" r="1.85"/>
<circle cx="46.1" cy="344.8" r="1.85"/>
<circle cx="48.7" cy="346.6" r="1.85"/>
<circle cx="51.4" cy="350.8" r="1.85"/>
<circle cx="54.0" cy="351.7" r="1.85"/>
<circle cx="56.6" cy="351.7" r="1.85"/>
<circle cx="59.3" cy="350.8" r="1.85"/>
<circle cx="61.9" cy="344.3" r="1.85"/>
<circle cx="64.5" cy="330.0" r="1.85"/>
<circle cx="67.2" cy="344.3" r="1.85"/>
<circle cx="69.8" cy="305.2" r="1.85"/>
<circle cx="72.4" cy="307.0" r="1.85"/>
<circle cx="75.1" cy="322.7" r="1.85"/>
<circle cx="77.7" cy="331.0" r="1.85"/>
<circle cx="80.4" cy="331.9" r="1.85"/>
<circle cx="83.0" cy="335.6" r="1.85"/>
<circle cx="85.6" cy="344.3" r="1.85"/>
<circle cx="88.3" cy="336.5" r="1.85"/>
<circle cx="90.9" cy="320.8" r="1.85"/>
<circle cx="93.5" cy="295.0" r="1.85"/>
<circle cx="96.2" cy="270.1" r="1.85"/>
<circle cx="98.8" cy="279.4" r="1.85"/>
<circle cx="101.4" cy="298.7" r="1.85"/>
<circle cx="104.1" cy="348.9" r="1.85"/>
<circle cx="106.7" cy="331.0" r="1.85"/>
<circle cx="109.4" cy="344.3" r="1.85"/>
<circle cx="112.0" cy="348.0" r="1.85"/>
<circle cx="114.6" cy="339.3" r="1.85"/>
<circle cx="117.3" cy="326.4" r="1.85"/>
<circle cx="119.9" cy="299.6" r="1.85"/>
<circle cx="122.5" cy="292.3" r="1.85"/>
<circle cx="125.2" cy="275.7" r="1.85"/>
<circle cx="127.8" cy="281.2" r="1.85"/>
<circle cx="130.4" cy="298.7" r="1.85"/>
<circle cx="133.1" cy="320.8" r="1.85"/>
<circle cx="135.7" cy="337.0" r="1.85"/>
<circle cx="138.3" cy="338.8" r="1.85"/>
<circle cx="141.0" cy="348.9" r="1.85"/>
<circle cx="143.6" cy="344.3" r="1.85"/>
<circle cx="146.3" cy="334.2" r="1.85"/>
<circle cx="148.9" cy="321.3" r="1.85"/>
<circle cx="151.5" cy="307.0" r="1.85"/>
<circle cx="154.2" cy="277.9" r="1.85"/>
<circle cx="156.8" cy="276.6" r="1.85"/>
<circle cx="159.4" cy="309.5" r="1.85"/>
<circle cx="162.1" cy="308.5" r="1.85"/>
<circle cx="164.7" cy="325.2" r="1.85"/>
<circle cx="167.3" cy="342.2" r="1.85"/>
<circle cx="170.0" cy="343.3" r="1.85"/>
<circle cx="172.6" cy="344.0" r="1.85"/>
<circle cx="175.3" cy="323.6" r="1.85"/>
<circle cx="177.9" cy="309.6" r="1.85"/>
<circle cx="180.5" cy="303.7" r="1.85"/>
<circle cx="183.2" cy="295.5" r="1.85"/>
<circle cx="185.8" cy="274.3" r="1.85"/>
<circle cx="188.4" cy="297.0" r="1.85"/>
<circle cx="191.1" cy="311.9" r="1.85"/>
<circle cx="193.7" cy="319.9" r="1.85"/>
<circle cx="196.3" cy="334.2" r="1.85"/>
<circle cx="199.0" cy="342.9" r="1.85"/>
<circle cx="201.6" cy="318.6" r="1.85"/>
<circle cx="204.2" cy="289.1" r="1.85"/>
<circle cx="206.9" cy="255.7" r="1.85"/>
<circle cx="209.5" cy="260.5" r="1.85"/>
<circle cx="212.2" cy="278.2" r="1.85"/>
<circle cx="214.8" cy="292.2" r="1.85"/>
<circle cx="217.4" cy="321.4" r="1.85"/>
<circle cx="220.1" cy="325.2" r="1.85"/>
<circle cx="222.7" cy="347.0" r="1.85"/>
<circle cx="225.3" cy="335.2" r="1.85"/>
<circle cx="228.0" cy="268.2" r="1.85"/>
<circle cx="230.6" cy="211.2" r="1.85"/>
<circle cx="233.2" cy="237.4" r="1.85"/>
<circle cx="235.9" cy="275.3" r="1.85"/>
<circle cx="238.5" cy="290.7" r="1.85"/>
<circle cx="241.2" cy="318.0" r="1.85"/>
<circle cx="243.8" cy="332.4" r="1.85"/>
<circle cx="246.4" cy="344.0" r="1.85"/>
<circle cx="249.1" cy="331.2" r="1.85"/>
<circle cx="251.7" cy="277.0" r="1.85"/>
<circle cx="254.3" cy="231.8" r="1.85"/>
<circle cx="257.0" cy="232.8" r="1.85"/>
<circle cx="259.6" cy="244.6" r="1.85"/>
<circle cx="262.2" cy="270.6" r="1.85"/>
<circle cx="264.9" cy="292.1" r="1.85"/>
<circle cx="267.5" cy="298.2" r="1.85"/>
<circle cx="270.1" cy="310.2" r="1.85"/>
<circle cx="272.8" cy="315.7" r="1.85"/>
<circle cx="275.4" cy="333.8" r="1.85"/>
<circle cx="278.1" cy="338.7" r="1.85"/>
<circle cx="280.7" cy="347.5" r="1.85"/>
<circle cx="283.3" cy="349.7" r="1.85"/>
<circle cx="286.0" cy="347.2" r="1.85"/>
<circle cx="288.6" cy="340.1" r="1.85"/>
<circle cx="291.2" cy="322.1" r="1.85"/>
<circle cx="293.9" cy="312.0" r="1.85"/>
<circle cx="296.5" cy="313.7" r="1.85"/>
<circle cx="299.1" cy="309.7" r="1.85"/>
<circle cx="301.8" cy="314.6" r="1.85"/>
<circle cx="304.4" cy="327.6" r="1.85"/>
<circle cx="307.1" cy="344.1" r="1.85"/>
<circle cx="309.7" cy="346.0" r="1.85"/>
<circle cx="312.3" cy="351.1" r="1.85"/>
<circle cx="315.0" cy="353.4" r="1.85"/>
<circle cx="317.6" cy="352.2" r="1.85"/>
<circle cx="320.2" cy="348.8" r="1.85"/>
<circle cx="322.9" cy="342.2" r="1.85"/>
<circle cx="325.5" cy="340.6" r="1.85"/>
<circle cx="328.1" cy="320.8" r="1.85"/>
<circle cx="330.8" cy="311.2" r="1.85"/>
<circle cx="333.4" cy="315.6" r="1.85"/>
<circle cx="336.1" cy="325.7" r="1.85"/>
<circle cx="338.7" cy="331.4" r="1.85"/>
<circle cx="341.3" cy="339.1" r="1.85"/>
<circle cx="344.0" cy="347.4" r="1.85"/>
<circle cx="346.6" cy="349.8" r="1.85"/>
<circle cx="349.2" cy="351.8" r="1.85"/>
<circle cx="351.9" cy="345.6" r="1.85"/>
<circle cx="354.5" cy="338.1" r="1.85"/>
<circle cx="357.1" cy="320.0" r="1.85"/>
<circle cx="359.8" cy="307.7" r="1.85"/>
<circle cx="362.4" cy="294.3" r="1.85"/>
<circle cx="365.0" cy="291.7" r="1.85"/>
<circle cx="367.7" cy="288.1" r="1.85"/>
<circle cx="370.3" cy="309.4" r="1.85"/>
<circle cx="373.0" cy="328.1" r="1.85"/>
<circle cx="375.6" cy="345.6" r="1.85"/>
<circle cx="378.2" cy="341.3" r="1.85"/>
<circle cx="380.9" cy="301.0" r="1.85"/>
<circle cx="383.5" cy="241.5" r="1.85"/>
<circle cx="386.1" cy="226.0" r="1.85"/>
<circle cx="388.8" cy="258.3" r="1.85"/>
<circle cx="391.4" cy="274.5" r="1.85"/>
<circle cx="394.0" cy="293.9" r="1.85"/>
<circle cx="396.7" cy="319.6" r="1.85"/>
<circle cx="399.3" cy="331.1" r="1.85"/>
<circle cx="402.0" cy="343.6" r="1.85"/>
<circle cx="404.6" cy="339.6" r="1.85"/>
<circle cx="407.2" cy="316.5" r="1.85"/>
<circle cx="409.9" cy="296.8" r="1.85"/>
<circle cx="412.5" cy="262.7" r="1.85"/>
<circle cx="415.1" cy="238.5" r="1.85"/>
<circle cx="417.8" cy="264.7" r="1.85"/>
<circle cx="420.4" cy="292.1" r="1.85"/>
<circle cx="423.0" cy="294.0" r="1.85"/>
<circle cx="425.7" cy="303.6" r="1.85"/>
<circle cx="428.3" cy="317.5" r="1.85"/>
<circle cx="430.9" cy="334.5" r="1.85"/>
<circle cx="433.6" cy="347.3" r="1.85"/>
<circle cx="436.2" cy="349.5" r="1.85"/>
<circle cx="438.9" cy="332.5" r="1.85"/>
<circle cx="441.5" cy="302.9" r="1.85"/>
<circle cx="444.1" cy="267.0" r="1.85"/>
<circle cx="446.8" cy="265.2" r="1.85"/>
<circle cx="449.4" cy="282.3" r="1.85"/>
<circle cx="452.0" cy="299.0" r="1.85"/>
<circle cx="454.7" cy="312.9" r="1.85"/>
<circle cx="457.3" cy="310.1" r="1.85"/>
<circle cx="459.9" cy="325.3" r="1.85"/>
<circle cx="462.6" cy="338.4" r="1.85"/>
<circle cx="465.2" cy="346.7" r="1.85"/>
<circle cx="467.9" cy="318.8" r="1.85"/>
<circle cx="470.5" cy="285.2" r="1.85"/>
<circle cx="473.1" cy="225.3" r="1.85"/>
<circle cx="475.8" cy="251.0" r="1.85"/>
<circle cx="478.4" cy="259.8" r="1.85"/>
<circle cx="481.0" cy="292.4" r="1.85"/>
<circle cx="483.7" cy="312.3" r="1.85"/>
<circle cx="486.3" cy="337.8" r="1.85"/>
<circle cx="488.9" cy="343.0" r="1.85"/>
<circle cx="491.6" cy="342.0" r="1.85"/>
<circle cx="494.2" cy="350.3" r="1.85"/>
<circle cx="496.8" cy="347.9" r="1.85"/>
<circle cx="499.5" cy="323.7" r="1.85"/>
<circle cx="502.1" cy="303.4" r="1.85"/>
<circle cx="504.8" cy="298.4" r="1.85"/>
<circle cx="507.4" cy="294.7" r="1.85"/>
<circle cx="510.0" cy="294.9" r="1.85"/>
<circle cx="512.7" cy="305.3" r="1.85"/>
<circle cx="515.3" cy="330.0" r="1.85"/>
<circle cx="517.9" cy="341.4" r="1.85"/>
<circle cx="520.6" cy="347.2" r="1.85"/>
<circle cx="523.2" cy="347.6" r="1.85"/>
<circle cx="525.8" cy="346.9" r="1.85"/>
<circle cx="528.5" cy="320.6" r="1.85"/>
<circle cx="531.1" cy="286.2" r="1.85"/>
<circle cx="533.8" cy="275.0" r="1.85"/>
<circle cx="536.4" cy="281.6" r="1.85"/>
<circle cx="539.0" cy="294.5" r="1.85"/>
<circle cx="541.7" cy="314.9" r="1.85"/>
<circle cx="544.3" cy="329.3" r="1.85"/>
<circle cx="546.9" cy="328.8" r="1.85"/>
<circle cx="549.6" cy="342.3" r="1.85"/>
<circle cx="552.2" cy="344.7" r="1.85"/>
<circle cx="554.8" cy="351.0" r="1.85"/>
<circle cx="557.5" cy="348.8" r="1.85"/>
<circle cx="560.1" cy="331.0" r="1.85"/>
<circle cx="562.7" cy="314.7" r="1.85"/>
<circle cx="565.4" cy="294.9" r="1.85"/>
<circle cx="568.0" cy="303.9" r="1.85"/>
<circle cx="570.7" cy="296.3" r="1.85"/>
<circle cx="573.3" cy="308.7" r="1.85"/>
<circle cx="575.9" cy="313.0" r="1.85"/>
<circle cx="578.6" cy="336.3" r="1.85"/>
<circle cx="581.2" cy="348.2" r="1.85"/>
<circle cx="583.8" cy="350.1" r="1.85"/>
<circle cx="586.5" cy="352.2" r="1.85"/>
<circle cx="589.1" cy="344.6" r="1.85"/>
<circle cx="591.7" cy="309.8" r="1.85"/>
<circle cx="594.4" cy="300.8" r="1.85"/>
<circle cx="597.0" cy="257.7" r="1.85"/>
<circle cx="599.7" cy="279.2" r="1.85"/>
<circle cx="602.3" cy="294.8" r="1.85"/>
<circle cx="604.9" cy="318.8" r="1.85"/>
<circle cx="607.6" cy="329.4" r="1.85"/>
<circle cx="610.2" cy="340.4" r="1.85"/>
<circle cx="612.8" cy="348.1" r="1.85"/>
<circle cx="615.5" cy="338.1" r="1.85"/>
<circle cx="618.1" cy="312.6" r="1.85"/>
<circle cx="620.7" cy="294.6" r="1.85"/>
<circle cx="623.4" cy="289.9" r="1.85"/>
<circle cx="626.0" cy="281.7" r="1.85"/>
<circle cx="628.6" cy="293.6" r="1.85"/>
<circle cx="631.3" cy="320.5" r="1.85"/>
<circle cx="633.9" cy="333.9" r="1.85"/>
<circle cx="636.6" cy="343.2" r="1.85"/>
<circle cx="639.2" cy="348.2" r="1.85"/>
<circle cx="641.8" cy="345.4" r="1.85"/>
<circle cx="644.5" cy="320.2" r="1.85"/>
<circle cx="647.1" cy="280.0" r="1.85"/>
<circle cx="649.7" cy="248.0" r="1.85"/>
<circle cx="652.4" cy="252.4" r="1.85"/>
<circle cx="655.0" cy="271.6" r="1.85"/>
<circle cx="657.6" cy="291.0" r="1.85"/>
<circle cx="660.3" cy="309.7" r="1.85"/>
<circle cx="662.9" cy="325.2" r="1.85"/>
<circle cx="665.6" cy="338.4" r="1.85"/>
<circle cx="668.2" cy="344.6" r="1.85"/>
<circle cx="670.8" cy="322.8" r="1.85"/>
<circle cx="673.5" cy="268.1" r="1.85"/>
<circle cx="676.1" cy="213.7" r="1.85"/>
<circle cx="678.7" cy="227.8" r="1.85"/>
<circle cx="681.4" cy="229.3" r="1.85"/>
<circle cx="684.0" cy="276.1" r="1.85"/>
<circle cx="686.6" cy="289.5" r="1.85"/>
<circle cx="689.3" cy="324.4" r="1.85"/>
<circle cx="691.9" cy="340.6" r="1.85"/>
<circle cx="694.5" cy="349.4" r="1.85"/>
<circle cx="697.2" cy="318.4" r="1.85"/>
<circle cx="699.8" cy="222.9" r="1.85"/>
<circle cx="702.5" cy="178.2" r="1.85"/>
<circle cx="705.1" cy="183.1" r="1.85"/>
<circle cx="707.7" cy="206.9" r="1.85"/>
<circle cx="710.4" cy="250.0" r="1.85"/>
<circle cx="713.0" cy="303.8" r="1.85"/>
<circle cx="715.6" cy="318.9" r="1.85"/>
<circle cx="718.3" cy="327.7" r="1.85"/>
<circle cx="720.9" cy="344.0" r="1.85"/>
<circle cx="723.5" cy="339.5" r="1.85"/>
<circle cx="726.2" cy="310.1" r="1.85"/>
<circle cx="728.8" cy="267.0" r="1.85"/>
<circle cx="731.5" cy="255.8" r="1.85"/>
<circle cx="734.1" cy="256.2" r="1.85"/>
<circle cx="736.7" cy="257.1" r="1.85"/>
<circle cx="739.4" cy="292.1" r="1.85"/>
<circle cx="742.0" cy="289.9" r="1.85"/>
<circle cx="744.6" cy="318.4" r="1.85"/>
<circle cx="747.3" cy="321.7" r="1.85"/>
<circle cx="749.9" cy="339.2" r="1.85"/>
<circle cx="752.5" cy="341.8" r="1.85"/>
<circle cx="755.2" cy="328.1" r="1.85"/>
<circle cx="757.8" cy="271.0" r="1.85"/>
<circle cx="760.5" cy="210.2" r="1.85"/>
<circle cx="763.1" cy="210.2" r="1.85"/>
<circle cx="765.7" cy="222.1" r="1.85"/>
<circle cx="768.4" cy="244.7" r="1.85"/>
<circle cx="771.0" cy="292.1" r="1.85"/>
<circle cx="773.6" cy="311.1" r="1.85"/>
<circle cx="776.3" cy="325.8" r="1.85"/>
<circle cx="778.9" cy="341.1" r="1.85"/>
<circle cx="781.5" cy="326.4" r="1.85"/>
<circle cx="784.2" cy="261.1" r="1.85"/>
<circle cx="786.8" cy="207.3" r="1.85"/>
<circle cx="789.4" cy="221.5" r="1.85"/>
<circle cx="792.1" cy="218.2" r="1.85"/>
<circle cx="794.7" cy="266.5" r="1.85"/>
<circle cx="797.4" cy="303.0" r="1.85"/>
<circle cx="800.0" cy="352.8" r="1.85"/>
<circle cx="802.6" cy="351.9" r="1.85"/>
<circle cx="805.3" cy="338.1" r="1.85"/>
<circle cx="807.9" cy="324.2" r="1.85"/>
<circle cx="810.5" cy="310.4" r="1.85"/>
<circle cx="813.2" cy="292.9" r="1.85"/>
<circle cx="815.8" cy="264.3" r="1.85"/>
<circle cx="818.4" cy="213.6" r="1.85"/>
<circle cx="821.1" cy="279.1" r="1.85"/>
<circle cx="823.7" cy="298.4" r="1.85"/>
<circle cx="826.4" cy="324.2" r="1.85"/>
<circle cx="829.0" cy="332.5" r="1.85"/>
<circle cx="831.6" cy="343.6" r="1.85"/>
<circle cx="834.3" cy="349.1" r="1.85"/>
<circle cx="836.9" cy="349.1" r="1.85"/>
<circle cx="839.5" cy="346.4" r="1.85"/>
<circle cx="842.2" cy="325.2" r="1.85"/>
<circle cx="844.8" cy="281.8" r="1.85"/>
<circle cx="847.4" cy="325.2" r="1.85"/>
<circle cx="850.1" cy="204.4" r="1.85"/>
<circle cx="852.7" cy="210.0" r="1.85"/>
<circle cx="855.3" cy="257.0" r="1.85"/>
<circle cx="858.0" cy="281.8" r="1.85"/>
<circle cx="860.6" cy="283.7" r="1.85"/>
<circle cx="863.3" cy="295.7" r="1.85"/>
<circle cx="865.9" cy="334.4" r="1.85"/>
<circle cx="868.5" cy="316.9" r="1.85"/>
<circle cx="871.2" cy="283.7" r="1.85"/>
<circle cx="873.8" cy="229.3" r="1.85"/>
<circle cx="876.4" cy="178.6" r="1.85"/>
<circle cx="879.1" cy="198.0" r="1.85"/>
<circle cx="881.7" cy="236.7" r="1.85"/>
<circle cx="884.3" cy="345.4" r="1.85"/>
<circle cx="887.0" cy="304.9" r="1.85"/>
<circle cx="889.6" cy="333.4" r="1.85"/>
<circle cx="892.3" cy="343.6" r="1.85"/>
<circle cx="894.9" cy="324.2" r="1.85"/>
<circle cx="897.5" cy="295.7" r="1.85"/>
<circle cx="900.2" cy="241.3" r="1.85"/>
<circle cx="902.8" cy="225.6" r="1.85"/>
<circle cx="905.4" cy="188.8" r="1.85"/>
<circle cx="908.1" cy="200.7" r="1.85"/>
<circle cx="910.7" cy="236.7" r="1.85"/>
<circle cx="913.3" cy="283.7" r="1.85"/>
<circle cx="916.0" cy="318.7" r="1.85"/>
<circle cx="918.6" cy="324.2" r="1.85"/>
<circle cx="921.2" cy="343.6" r="1.85"/>
<circle cx="923.9" cy="334.4" r="1.85"/>
<circle cx="926.5" cy="315.0" r="1.85"/>
<circle cx="929.2" cy="285.5" r="1.85"/>
<circle cx="931.8" cy="257.9" r="1.85"/>
<circle cx="934.4" cy="196.6" r="1.85"/>
<circle cx="937.1" cy="192.9" r="1.85"/>
<circle cx="939.7" cy="261.0" r="1.85"/>
<circle cx="942.3" cy="261.0" r="1.85"/>
<circle cx="945.0" cy="292.9" r="1.85"/>
<circle cx="947.6" cy="329.8" r="1.85"/>
<circle cx="950.2" cy="333.4" r="1.85"/>
<circle cx="952.9" cy="334.4" r="1.85"/>
<circle cx="955.5" cy="291.1" r="1.85"/>
<circle cx="958.2" cy="261.0" r="1.85"/>
<circle cx="960.8" cy="245.9" r="1.85"/>
<circle cx="963.4" cy="231.2" r="1.85"/>
<circle cx="966.1" cy="187.8" r="1.85"/>
<circle cx="968.7" cy="234.8" r="1.85"/>
<circle cx="971.3" cy="266.2" r="1.85"/>
<circle cx="974.0" cy="283.7" r="1.85"/>
<circle cx="976.6" cy="312.3" r="1.85"/>
<circle cx="979.2" cy="331.6" r="1.85"/>
<circle cx="981.9" cy="280.0" r="1.85"/>
<circle cx="984.5" cy="218.7" r="1.85"/>
<circle cx="987.1" cy="148.8" r="1.85"/>
<circle cx="989.8" cy="158.0" r="1.85"/>
<circle cx="992.4" cy="194.6" r="1.85"/>
<circle cx="995.1" cy="225.6" r="1.85"/>
<circle cx="997.7" cy="283.7" r="1.85"/>
<circle cx="1000.3" cy="292.9" r="1.85"/>
<circle cx="1003.0" cy="339.9" r="1.85"/>
<circle cx="1005.6" cy="315.0" r="1.85"/>
</g>
<circle cx="873.8" cy="229.3" r="3.9" fill="none" stroke="#000" stroke-opacity="0.58" stroke-width="2.8"/>
<g font-family="'Liberation Serif',serif" font-size="10.8" fill="#606060">
<text x="25.3" y="370.2" text-anchor="middle">1700</text>
<text x="157.1" y="370.2" text-anchor="middle">1750</text>
<text x="288.9" y="370.2" text-anchor="middle">1800</text>
<text x="420.7" y="370.2" text-anchor="middle">1850</text>
<text x="552.5" y="370.2" text-anchor="middle">1900</text>
<text x="684.3" y="370.2" text-anchor="middle">1950</text>
<text x="816.1" y="370.2" text-anchor="middle">2000</text>
<text x="947.9" y="370.2" text-anchor="middle">2050</text>
<text x="18.9" y="358.3" text-anchor="end">0</text>
<text x="18.9" y="312.2" text-anchor="end">50</text>
<text x="18.9" y="266.1" text-anchor="end">100</text>
<text x="18.9" y="220.1" text-anchor="end">150</text>
<text x="18.9" y="174.0" text-anchor="end">200</text>
<text x="18.9" y="127.9" text-anchor="end">250</text>
</g>
</svg>
<div id="tip">Год=2022г. Солнце=135ед.</div>
<div id="cur">Курсор находится в точке: (2021,135)</div>
<h3>Обратите внимание на повышенную Солнечную активность (Max/Min) и вспомните исторические события - "революции"/перевороты/военные<br>кофликты, финансовые, экономические КРИЗИСЫ:</h3>
<ul>
<li>"Революцию" (попытка переворота) - 1905 г.</li>
<li>"Революцию"/Переворот - 1917 г.</li>
<li>Начало Второй Мировой Войны (Захват Австрии, Чехословакии) - 1938-1939 г.г.</li>
<li>Суэцкий кризис 1956-1957 г.г. и справоцированные западными спецслужбами Венгерские события 1956 г., чтобы отвлечь внимание СССР от Суэтского кризиса.</li>
<li>Военные конфликты 1967-1968 гг. — между Израилем и Египтом, Сирией, Иорданией, Ираком, Алжиром; И справоцированные западными спецслужбами Чехословатские события 1968<br>г., чтобы отвлечь внимание СССР от военного конфликта на Ближнем Востоке.</li>
<li>"Революцию"/Беловежский Переворот - Расчленение/Развал СССР - 1991 г.</li>
</ul>
<svg id="arrows" width="1041" height="575" viewBox="0 0 1041 575">
<g fill="#d84a3c" stroke="none">
<polygon points="479.6,413.5 262.2,281.6 263.4,279.5 255.4,280.3 258.6,287.7 259.8,285.6 479.4,413.7"/>
<polygon points="481.0,409.9 543.9,375.4 602.4,342.8 603.7,344.9 606.9,337.5 598.9,336.7 600.1,338.8 542.9,373.8 481.0,409.7"/>
<polygon points="480.2,415.1 543.7,387.9 607.6,359.2 629.2,349.1 630.3,351.3 634.0,344.2 626.1,342.8 627.2,345.0 606.0,356.0 543.1,386.5 480.2,414.9"/>
<polygon points="484.0,415.9 543.5,396.3 607.0,375.5 666.3,355.7 700.2,344.3 864.8,288.4 865.7,290.9 870.2,284.0 862.4,281.4 863.3,283.9 699.4,342.1 665.7,353.9 606.6,374.3 543.3,395.7 484.0,415.7"/>
</g>
<g fill="none" stroke="#d84a3c" stroke-width="0.7"><path d="M544 394.5l-2 1.4l2 1.2"/><path d="M654.3 411.5l1.3 1.6l1.4-1.6"/></g>
</svg>
</body>
</html>
